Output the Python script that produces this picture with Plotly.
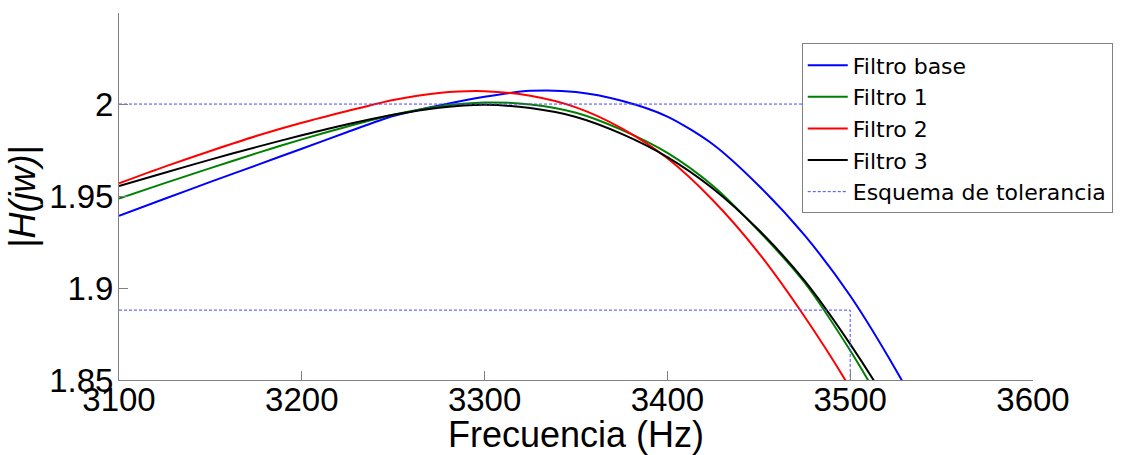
import plotly.graph_objects as go

# ---- data ----
freq = [3100, 3125, 3150, 3175, 3200, 3225, 3250, 3275, 3300, 3325,
        3350, 3375, 3400, 3425, 3450, 3475, 3500, 3525, 3550]

filtro_base = [1.9393, 1.9485, 1.9577, 1.9667, 1.9757, 1.9848, 1.9935, 1.9992, 2.0040, 2.0072,
               2.0066, 2.0018, 1.9932, 1.9780, 1.9556, 1.9287, 1.8958, 1.8555, 1.8100]
filtro_1 = [1.9487, 1.9570, 1.9652, 1.9732, 1.9808, 1.9878, 1.9942, 1.9987, 2.0008, 1.9998,
            1.9953, 1.9860, 1.9735, 1.9555, 1.9310, 1.9030, 1.8660, 1.8240, 1.7800]
filtro_2 = [1.9569, 1.9660, 1.9745, 1.9826, 1.9898, 1.9962, 2.0022, 2.0060, 2.0070, 2.0045,
            1.9982, 1.9868, 1.9705, 1.9476, 1.9190, 1.8845, 1.8455, 1.8000, 1.7500]
filtro_3 = [1.9554, 1.9627, 1.9698, 1.9766, 1.9830, 1.9890, 1.9942, 1.9980, 1.9996, 1.9978,
            1.9930, 1.9838, 1.9712, 1.9540, 1.9315, 1.9040, 1.8695, 1.8300, 1.7850]

# tolerance scheme (upper limit, then lower limit with band edge)
tol_x = [3100, 3600, None, 3100, 3500, 3500]
tol_y = [2.0, 2.0, None, 1.888, 1.888, 1.85]

x_ticks = [3100, 3200, 3300, 3400, 3500, 3600]
y_ticks = [1.85, 1.9, 1.95, 2.0]
y_tick_text = ["1.85", "1.9", "1.95", "2"]

series = [
    ("Filtro base", filtro_base, "rgb(0,0,255)"),
    ("Filtro 1", filtro_1, "rgb(0,128,0)"),
    ("Filtro 2", filtro_2, "rgb(255,0,0)"),
    ("Filtro 3", filtro_3, "rgb(0,0,0)"),
]

FONT = "Liberation Sans, Arial, sans-serif"
AX = "rgb(128,128,128)"

fig = go.Figure()
for name, vals, col in series:
    fig.add_trace(go.Scatter(x=freq, y=vals, name=name, mode="lines",
                             line=dict(color=col, width=2, shape="spline", smoothing=0.8)))
fig.add_trace(go.Scatter(x=tol_x, y=tol_y, name="Esquema de tolerancia", mode="lines",
                         connectgaps=False,
                         line=dict(color="rgb(70,70,255)", width=1, dash="3px,2px")))

fig.update_layout(
    width=1122, height=455,
    margin=dict(l=119, r=89, t=13, b=75, autoexpand=False),
    paper_bgcolor="white", plot_bgcolor="white",
    font=dict(family=FONT, color="black"),
    showlegend=True,
    legend=dict(x=0.747, y=0.917, xanchor="left", yanchor="top",
                bgcolor="white", bordercolor=AX, borderwidth=1,
                font=dict(size=22, family="DejaVu Sans, sans-serif"), itemwidth=40,
                tracegroupgap=0),
    xaxis=dict(range=[3100, 3600], tickvals=x_ticks, ticks="inside", ticklen=9,
               tickcolor=AX, showline=True, linecolor=AX, automargin=False,
               linewidth=1, showgrid=False, zeroline=False, mirror=False,
               ticklabelstandoff=-10,
               tickfont=dict(size=33, family=FONT),
               title=dict(text="Frecuencia (Hz)", font=dict(size=36, family=FONT), standoff=0)),
    yaxis=dict(range=[1.85, 2.0495], tickvals=y_ticks, ticktext=y_tick_text, ticks="inside",
               ticklen=9, tickcolor=AX, showline=True, automargin=False,
               linecolor=AX, linewidth=1, showgrid=False, zeroline=False,
               ticklabelstandoff=-2,
               tickfont=dict(size=33, family=FONT),
               title=dict(text="|<i>H(jw)</i>|", font=dict(size=36, family=FONT), standoff=2)),
)

fig.write_html("out.html")
